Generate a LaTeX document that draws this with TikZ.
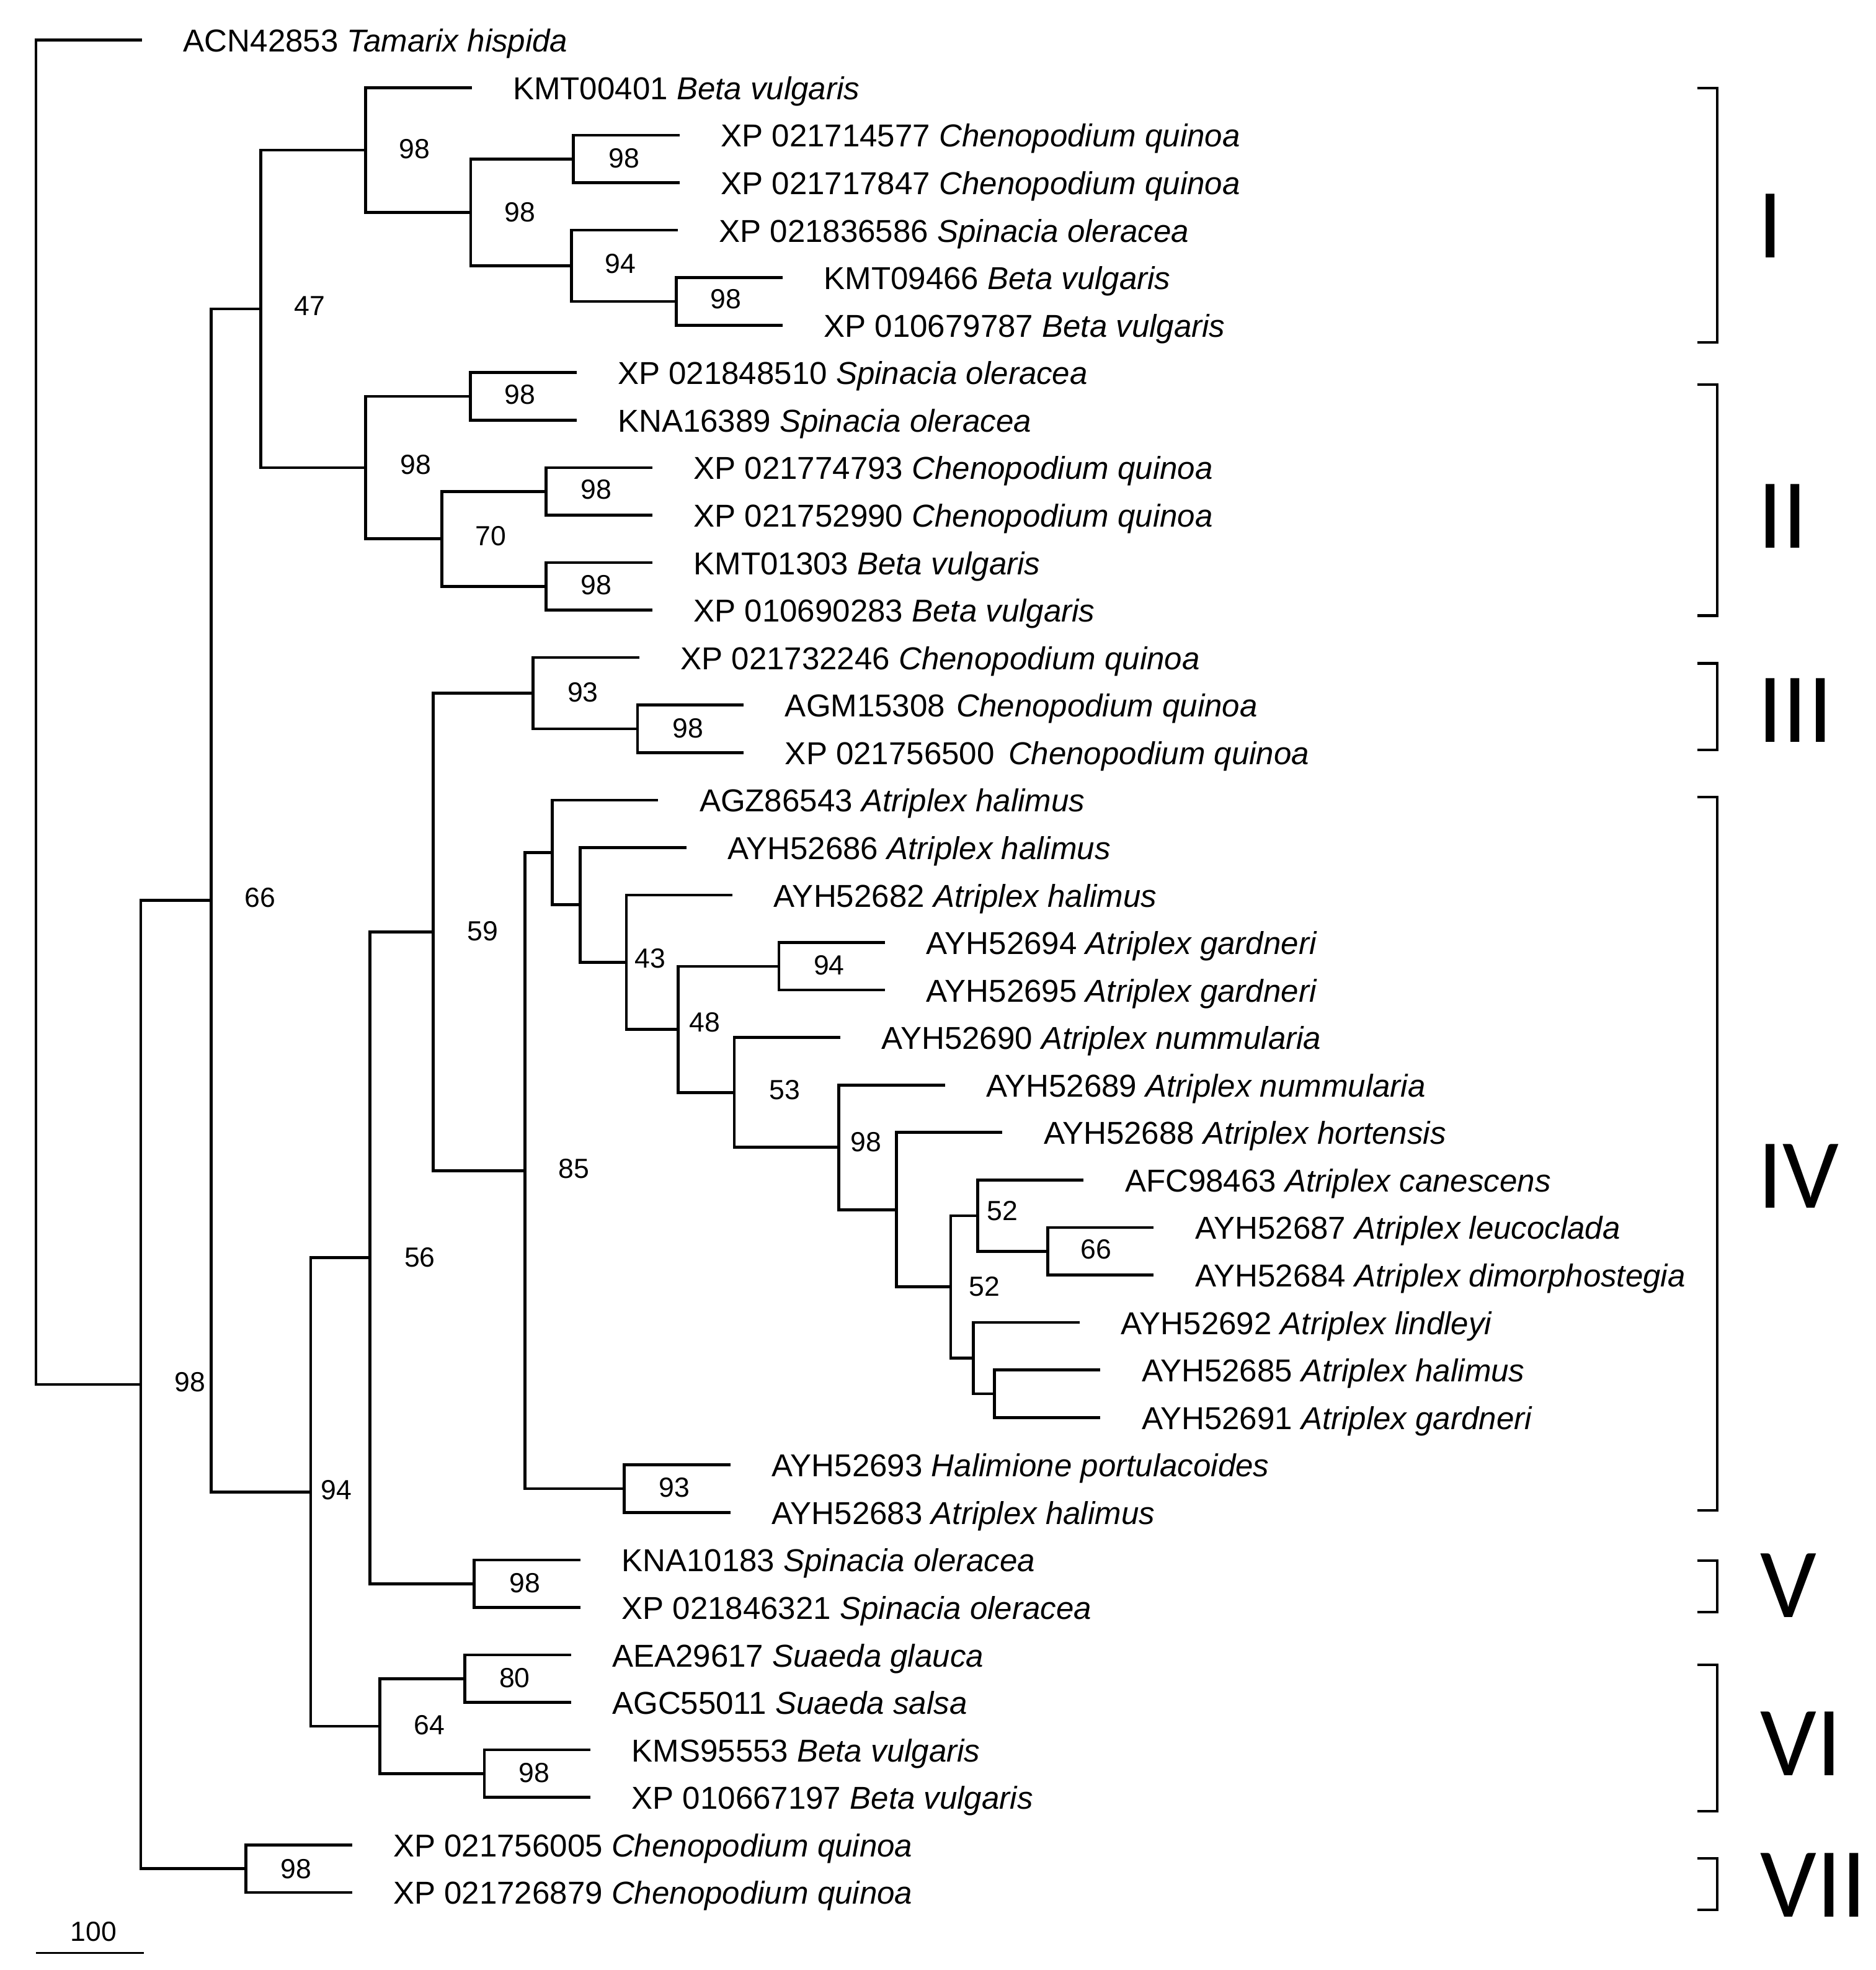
\documentclass[tikz,border=0pt]{standalone}
\usepackage{fontspec}
\setmainfont{Liberation Sans}
\newfontfamily\carl{Carlito}
\newcommand\leaffont{\fontsize{12.6}{14}\selectfont}
\newcommand\bsfont{\fontsize{11}{13}\selectfont}
\newcommand\cladefont{\carl\fontsize{39.5}{42}\selectfont}
\tikzset{
  br/.style={line width=1.15pt, line join=miter},
  brk/.style={line width=1pt, line join=miter},
  leaf/.style={anchor=base west, inner sep=0pt, font=\leaffont},
  bs/.style={inner sep=0pt, font=\bsfont},
  clade/.style={anchor=base west, inner sep=0pt, font=\cladefont},
}
\newcommand\leafat[4]{%
  \coordinate (e#1) at (#2,#3);
  \node[leaf] (t#1) at ([shift={(32.5,9.4)}]e#1) {#4};}
\begin{document}
\begin{tikzpicture}[x=0.5pt,y=-0.5pt]
\fill[white] (0,0) rectangle (1493,1568);
\useasboundingbox (0,0) rectangle (1493,1568);

% internal nodes
\coordinate (R) at (28.7,567);
\coordinate (N98a) at (112,1102);
\coordinate (N66) at (168,716.6);
\coordinate (N47) at (207.5,245.8);
\coordinate (NI) at (291,119.4);
\coordinate (NIa) at (374.7,169);
\coordinate (NIb) at (456.5,126.5);
\coordinate (NIc) at (455,211.6);
\coordinate (NId) at (538.5,239.9);
\coordinate (NII) at (291,372.2);
\coordinate (NIIa) at (374.4,315.5);
\coordinate (NIIb) at (351.7,428.9);
\coordinate (NIIc) at (434.8,391.1);
\coordinate (NIId) at (434.8,466.7);
\coordinate (N94) at (247.3,1187.5);
\coordinate (N56) at (294.4,1001.1);
\coordinate (N59) at (344.8,741.7);
\coordinate (NIII) at (424.4,551.8);
\coordinate (NIIIa) at (507.6,580.1);
\coordinate (N85) at (418,931.7);
\coordinate (NA) at (439.5,678.5);
\coordinate (NB) at (461.8,720.2);
\coordinate (N43) at (498.6,765.9);
\coordinate (N48) at (540,819.3);
\coordinate (N94b) at (620,769.1);
\coordinate (N53) at (584.6,869.5);
\coordinate (N98c) at (667.7,913.2);
\coordinate (NC) at (713.5,962.8);
\coordinate (N52lo) at (756.8,1024.3);
\coordinate (N52up) at (778.2,967.6);
\coordinate (N66b) at (834,995.9);
\coordinate (ND) at (775,1081);
\coordinate (NE) at (791.5,1109.3);
\coordinate (NHal) at (497,1184.9);
\coordinate (NV) at (377.5,1260.5);
\coordinate (N64) at (302.4,1373.9);
\coordinate (N80) at (370,1336.1);
\coordinate (N98d) at (385.5,1411.7);
\coordinate (NVII) at (195.7,1487.3);

% leaves
\leafat{1}{113.2}{32}{ACN42853 \textit{Tamarix hispida}}
\leafat{2}{375.5}{69.8}{KMT00401 \textit{Beta vulgaris}}
\leafat{3}{541}{107.6}{XP 021714577 \textit{Chenopodium quinoa}}
\leafat{4}{541}{145.4}{XP 021717847 \textit{Chenopodium quinoa}}
\leafat{5}{539.5}{183.2}{XP 021836586 \textit{Spinacia oleracea}}
\leafat{6}{623}{221}{KMT09466 \textit{Beta vulgaris}}
\leafat{7}{623}{258.8}{XP 010679787 \textit{Beta vulgaris}}
\leafat{8}{458.9}{296.6}{XP 021848510 \textit{Spinacia oleracea}}
\leafat{9}{458.9}{334.4}{KNA16389 \textit{Spinacia oleracea}}
\leafat{10}{519.3}{372.2}{XP 021774793 \textit{Chenopodium quinoa}}
\leafat{11}{519.3}{410}{XP 021752990 \textit{Chenopodium quinoa}}
\leafat{12}{519.3}{447.8}{KMT01303 \textit{Beta vulgaris}}
\leafat{13}{519.3}{485.6}{XP 010690283 \textit{Beta vulgaris}}
\leafat{14}{508.9}{523.4}{XP 021732246 \textit{Chenopodium quinoa}}
\leafat{15}{592.1}{561.2}{AGM15308 \hspace{1pt}\textit{Chenopodium quinoa}}
\leafat{16}{592.1}{599}{XP 021756500 \hspace{2pt}\textit{Chenopodium quinoa}}
\leafat{17}{524}{636.8}{AGZ86543 \textit{Atriplex halimus}}
\leafat{18}{546.3}{674.6}{AYH52686 \textit{Atriplex halimus}}
\leafat{19}{583.1}{712.4}{AYH52682 \textit{Atriplex halimus}}
\leafat{20}{704.5}{750.2}{AYH52694 \textit{Atriplex gardneri}}
\leafat{21}{704.5}{788}{AYH52695 \textit{Atriplex gardneri}}
\leafat{22}{669.1}{825.8}{AYH52690 \textit{Atriplex nummularia}}
\leafat{23}{752.2}{863.6}{AYH52689 \textit{Atriplex nummularia}}
\leafat{24}{798}{901.4}{AYH52688 \textit{Atriplex hortensis}}
\leafat{25}{862.7}{939.2}{AFC98463 \textit{Atriplex canescens}}
\leafat{26}{918.5}{977}{AYH52687 \textit{Atriplex leucoclada}}
\leafat{27}{918.5}{1014.8}{AYH52684 \textit{Atriplex dimorphostegia}}
\leafat{28}{859.5}{1052.6}{AYH52692 \textit{Atriplex lindleyi}}
\leafat{29}{876}{1090.4}{AYH52685 \textit{Atriplex halimus}}
\leafat{30}{876}{1128.2}{AYH52691 \textit{Atriplex gardneri}}
\leafat{31}{581.5}{1166}{AYH52693 \textit{Halimione portulacoides}}
\leafat{32}{581.5}{1203.8}{AYH52683 \textit{Atriplex halimus}}
\leafat{33}{462}{1241.6}{KNA10183 \textit{Spinacia oleracea}}
\leafat{34}{462}{1279.4}{XP 021846321 \textit{Spinacia oleracea}}
\leafat{35}{454.5}{1317.2}{AEA29617 \textit{Suaeda glauca}}
\leafat{36}{454.5}{1355}{AGC55011 \textit{Suaeda salsa}}
\leafat{37}{470}{1392.8}{KMS95553 \textit{Beta vulgaris}}
\leafat{38}{470}{1430.6}{XP 010667197 \textit{Beta vulgaris}}
\leafat{39}{280.2}{1468.4}{XP 021756005 \textit{Chenopodium quinoa}}
\leafat{40}{280.2}{1506.2}{XP 021726879 \textit{Chenopodium quinoa}}

% branches
\draw[br] (R) |- (e1); \draw[br] (R) |- (N98a);
\draw[br] (N98a) |- (N66); \draw[br] (N98a) |- (NVII);
\draw[br] (N66) |- (N47); \draw[br] (N66) |- (N94);
\draw[br] (N47) |- (NI); \draw[br] (N47) |- (NII);
\draw[br] (NI) |- (e2); \draw[br] (NI) |- (NIa);
\draw[br] (NIa) |- (NIb); \draw[br] (NIa) |- (NIc);
\draw[br] (NIb) |- (e3); \draw[br] (NIb) |- (e4);
\draw[br] (NIc) |- (e5); \draw[br] (NIc) |- (NId);
\draw[br] (NId) |- (e6); \draw[br] (NId) |- (e7);
\draw[br] (NII) |- (NIIa); \draw[br] (NII) |- (NIIb);
\draw[br] (NIIa) |- (e8); \draw[br] (NIIa) |- (e9);
\draw[br] (NIIb) |- (NIIc); \draw[br] (NIIb) |- (NIId);
\draw[br] (NIIc) |- (e10); \draw[br] (NIIc) |- (e11);
\draw[br] (NIId) |- (e12); \draw[br] (NIId) |- (e13);
\draw[br] (N94) |- (N56); \draw[br] (N94) |- (N64);
\draw[br] (N56) |- (N59); \draw[br] (N56) |- (NV);
\draw[br] (N59) |- (NIII); \draw[br] (N59) |- (N85);
\draw[br] (NIII) |- (e14); \draw[br] (NIII) |- (NIIIa);
\draw[br] (NIIIa) |- (e15); \draw[br] (NIIIa) |- (e16);
\draw[br] (N85) |- (NA); \draw[br] (N85) |- (NHal);
\draw[br] (NA) |- (e17); \draw[br] (NA) |- (NB);
\draw[br] (NB) |- (e18); \draw[br] (NB) |- (N43);
\draw[br] (N43) |- (e19); \draw[br] (N43) |- (N48);
\draw[br] (N48) |- (N94b); \draw[br] (N48) |- (N53);
\draw[br] (N94b) |- (e20); \draw[br] (N94b) |- (e21);
\draw[br] (N53) |- (e22); \draw[br] (N53) |- (N98c);
\draw[br] (N98c) |- (e23); \draw[br] (N98c) |- (NC);
\draw[br] (NC) |- (e24); \draw[br] (NC) |- (N52lo);
\draw[br] (N52lo) |- (N52up); \draw[br] (N52lo) |- (ND);
\draw[br] (N52up) |- (e25); \draw[br] (N52up) |- (N66b);
\draw[br] (N66b) |- (e26); \draw[br] (N66b) |- (e27);
\draw[br] (ND) |- (e28); \draw[br] (ND) |- (NE);
\draw[br] (NE) |- (e29); \draw[br] (NE) |- (e30);
\draw[br] (NHal) |- (e31); \draw[br] (NHal) |- (e32);
\draw[br] (NV) |- (e33); \draw[br] (NV) |- (e34);
\draw[br] (N64) |- (N80); \draw[br] (N64) |- (N98d);
\draw[br] (N80) |- (e35); \draw[br] (N80) |- (e36);
\draw[br] (N98d) |- (e37); \draw[br] (N98d) |- (e38);
\draw[br] (NVII) |- (e39); \draw[br] (NVII) |- (e40);

% support values
\node[bs] (sN98a) at (151.4,1100) {98};
\node[bs] (sN66) at (207,714.5) {66};
\node[bs] (sN47) at (246.5,243.7) {47};
\node[bs] (sNI) at (330,118.8) {98};
\node[bs] (sNIa) at (414,168.7) {98};
\node[bs] (sNIb) at (497,126) {98};
\node[bs] (sNIc) at (494,210) {94};
\node[bs] (sNId) at (578,238) {98};
\node[bs] (sNII) at (331,369.8) {98};
\node[bs] (sNIIa) at (414,314) {98};
\node[bs] (sNIIb) at (390.9,426.5) {70};
\node[bs] (sNIIc) at (474.5,389.5) {98};
\node[bs] (sNIId) at (474.5,465.8) {98};
\node[bs] (sN94) at (267.7,1186) {94};
\node[bs] (sN56) at (334.2,1001) {56};
\node[bs] (sN59) at (384.4,741) {59};
\node[bs] (sNIII) at (464,551) {93};
\node[bs] (sNIIIa) at (547.7,579.5) {98};
\node[bs] (sN85) at (457,930) {85};
\node[bs] (sN43) at (517.5,762.8) {43};
\node[bs] (sN48) at (561,813.7) {48};
\node[bs] (sN94b) at (660,768.4) {94};
\node[bs] (sN53) at (624.7,867.6) {53};
\node[bs] (sN98c) at (689.4,909.2) {98};
\node[bs] (sN52up) at (798,964) {52};
\node[bs] (sN52lo) at (783.5,1024) {52};
\node[bs] (sN66b) at (872.7,994.2) {66};
\node[bs] (sNHal) at (537,1184) {93};
\node[bs] (sNV) at (418,1259.8) {98};
\node[bs] (sN64) at (342,1373) {64};
\node[bs] (sN80) at (409.7,1335.5) {80};
\node[bs] (sN98d) at (425.3,1411.2) {98};
\node[bs] (sNVII) at (235.5,1487.4) {98};

% scale bar
\coordinate (sb1) at (28.7,1554.2);
\coordinate (sb2) at (114.3,1554.2);
\draw[line width=0.7pt] (sb1) -- (sb2);
\node[bs] (s100) at (74.5,1537.6) {100};

% clade brackets
\draw[brk] (1351,70) -- (1367,70) -- (1367,272.5) -- (1351,272.5);
\draw[brk] (1351,306) -- (1367,306) -- (1367,490) -- (1351,490);
\draw[brk] (1351,528) -- (1367,528) -- (1367,597) -- (1351,597);
\draw[brk] (1351,634.6) -- (1367,634.6) -- (1367,1202) -- (1351,1202);
\draw[brk] (1351,1242) -- (1367,1242) -- (1367,1283) -- (1351,1283);
\draw[brk] (1351,1325) -- (1367,1325) -- (1367,1441.6) -- (1351,1441.6);
\draw[brk] (1351,1479) -- (1367,1479) -- (1367,1520) -- (1351,1520);

\node[clade] (cI) at (1399,205) {I};
\node[clade] (cII) at (1399,436) {II};
\node[clade] (cIII) at (1399,590.5) {III};
\node[clade] (cIV) at (1399,961.3) {IV};
\node[clade] (cV) at (1401,1287.5) {V};
\node[clade] (cVI) at (1401,1413.4) {VI};
\node[clade] (cVII) at (1401,1525.9) {VII};
\end{tikzpicture}
\end{document}
